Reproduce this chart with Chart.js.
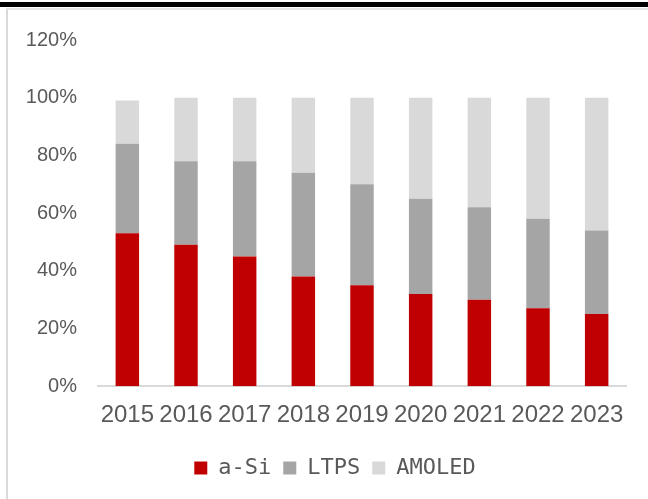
<!DOCTYPE html>
<html>
<head>
<meta charset="utf-8">
<script src="https://cdn.jsdelivr.net/npm/chart.js@4"></script>
<style>
    html, body { margin: 0; padding: 0; background: #fff; }
    #wrap { position: relative; width: 648px; height: 499px; overflow: hidden; }
    #topbar { position: absolute; left: 0; top: 2px; width: 648px; height: 5px; background: #000; }
    #frame { position: absolute; left: 6px; top: 8px; width: 660px; height: 520px;
             border-left: 2px solid #d9d9d9; border-top: 2px solid #e6e6e6; }
    #box { position: absolute; left: 0; top: 0; width: 648px; height: 499px; }
</style>
</head>
<body>
<div id="wrap">
    <div id="topbar"></div>
    <div id="frame"></div>
    <div id="box"><canvas id="shareChart"></canvas></div>
</div>
<script>
// categories
const years = ['2015', '2016', '2017', '2018', '2019', '2020', '2021', '2022', '2023'];
// share by panel technology, %
const aSi = [53, 49, 45, 38, 35, 32, 30, 27, 25];
const ltps = [31, 29, 33, 36, 35, 33, 32, 31, 29];
const amoled = [15, 22, 22, 26, 30, 35, 38, 42, 46];
// y axis ticks
const yTicks = [0, 20, 40, 60, 80, 100, 120];

const textColor = '#595959';

// the original legend is a bit right of centre, nudge it over
const legendShift = {
    id: 'legendShift',
    afterLayout: function (chart) {
        chart.legend.left += 22;
        chart.legend.right += 22;
    }
};

document.addEventListener('DOMContentLoaded', function () {
    const ctx = document.getElementById('shareChart').getContext('2d');
    new Chart(ctx, {
        type: 'bar',
        data: {
            labels: years,
            datasets: [
                { label: 'a-Si', data: aSi, backgroundColor: '#c00000' },
                { label: 'LTPS', data: ltps, backgroundColor: '#a5a5a5' },
                { label: 'AMOLED', data: amoled, backgroundColor: '#d9d9d9' }
            ]
        },
        plugins: [legendShift],
        options: {
            responsive: true,
            maintainAspectRatio: false,
            animation: false,
            datasets: { bar: { categoryPercentage: 1, barPercentage: 0.4 } },
            layout: { padding: { left: 0, right: 22, top: 40, bottom: 10 } },
            plugins: {
                tooltip: { enabled: false },
                legend: {
                    position: 'bottom',
                    labels: {
                        boxWidth: 13,
                        boxHeight: 13,
                        padding: 12,
                        color: textColor,
                        font: { family: 'DejaVu Sans Mono', size: 22 }
                    }
                }
            },
            scales: {
                x: {
                    stacked: true,
                    grid: { display: false, drawTicks: false },
                    border: { color: '#d9d9d9', width: 2 },
                    ticks: {
                        color: textColor,
                        padding: 15,
                        maxRotation: 0,
                        font: { family: 'Liberation Sans', size: 24 }
                    }
                },
                y: {
                    stacked: true,
                    min: 0,
                    max: 120,
                    afterFit: function (scale) { scale.width = 98; },
                    afterBuildTicks: function (scale) {
                        scale.ticks = yTicks.map(function (v) { return { value: v }; });
                    },
                    grid: { display: false, drawTicks: false },
                    border: { display: false },
                    ticks: {
                        color: textColor,
                        padding: 21,
                        font: { family: 'Liberation Sans', size: 20 },
                        callback: function (v) { return v + '%'; }
                    }
                }
            }
        }
    });
});
</script>
</body>
</html>
